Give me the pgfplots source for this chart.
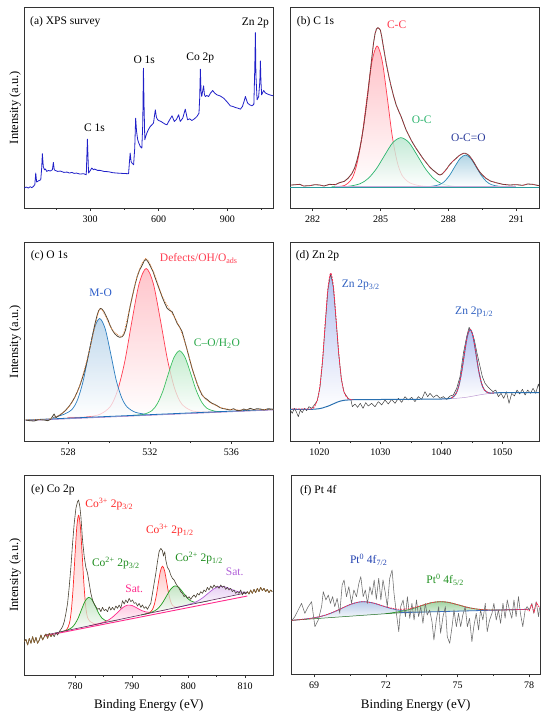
\documentclass[border=0pt]{standalone}
\usepackage{fontspec}
\setmainfont{Liberation Serif}
\usepackage{pgfplots}
\pgfplotsset{compat=1.18}
\definecolor{survey}{HTML}{2020C8}
\definecolor{rawbr}{HTML}{6B5A3A}
\definecolor{rawdk}{HTML}{4A4233}
\definecolor{envred}{HTML}{FF2A50}
\definecolor{ccred}{HTML}{FF3C50}
\definecolor{ocgreen}{HTML}{2DB46E}
\definecolor{ocoblue}{HTML}{2A8AB8}
\definecolor{ocolab}{HTML}{2A3A9A}
\definecolor{teal2}{HTML}{2A9C9C}
\definecolor{purp}{HTML}{A070C0}
\definecolor{moblue}{HTML}{2B7DC0}
\definecolor{molab}{HTML}{2B5CC8}
\definecolor{cogreen}{HTML}{3CC060}
\definecolor{colab}{HTML}{2AA84A}
\definecolor{envor}{HTML}{E8843C}
\definecolor{znblue}{HTML}{2A70B0}
\definecolor{znlab}{HTML}{2E5FC0}
\definecolor{lav}{HTML}{B4C0F0}
\definecolor{cored}{HTML}{FF2A2A}
\definecolor{cogr}{HTML}{1E9C1E}
\definecolor{colabgr}{HTML}{1E8C1E}
\definecolor{satm}{HTML}{FF2A8C}
\definecolor{satv}{HTML}{B060D8}
\definecolor{basedark}{HTML}{5A2A5A}
\definecolor{ptblue}{HTML}{3A6EC0}
\definecolor{ptlab}{HTML}{2040B0}
\definecolor{ptgreen}{HTML}{30A030}
\definecolor{ptlabg}{HTML}{209020}
\definecolor{grayraw}{HTML}{6A6A6A}
\pgfplotsset{
  xps/.style={
    scale only axis, width=249pt, height=201pt, anchor=north west,
    ymin=0, ytick=\empty, no marks, clip=true,
    axis line style={line width=0.7pt, black!80},
    xtick pos=left, tick align=outside,
    major tick length=3pt, minor tick length=1.8pt,
    tick style={black!80, line width=0.6pt},
    minor x tick num=1,
    xticklabel style={font=\fontsize{10}{12}\selectfont, yshift=-1pt},
    scaled x ticks=false,
    /pgf/number format/assume math mode=true,
    /pgf/number format/1000 sep={},
    every axis plot/.append style={line join=round},
  },
  ylab/.style={ylabel={Intensity (a.u.)}, ylabel style={font=\fontsize{12.5}{14}\selectfont, at={(axis description cs:-0.013,0.5)}, anchor=south, inner sep=0pt}},
  xlab/.style={xlabel={Binding Energy (eV)}, xlabel style={font=\fontsize{13}{15}\selectfont, at={(axis description cs:0.5,0)}, anchor=north, yshift=-24.5pt, inner sep=0pt}},
}
\tikzset{lab/.style={font=\fontsize{11.5}{13}\selectfont, inner sep=0pt}}
\begin{document}
\begin{tikzpicture}
\useasboundingbox (0,0) rectangle (550pt,-721pt);
% ---------------- (a) survey
\begin{axis}[xps, ylab, at={(24.3pt,-7pt)}, xmin=12, xmax=1101, ymax=604,
  xtick={300,600,900}, minor xtick={150,450,750,1050}, minor x tick num=0]
\addplot[color=survey, line width=0.8pt] coordinates {
(12,60) (20,63) (30,60) (38,64) (45,61) (52,65) (58,70) (62,105) (66,78) (75,82) (84,85) (88,120) (91,163) (95,125) (100,115) (105,117) (110,110) (118,113) (125,111) (135,115) (139,137) (143,115) (147,113) (158,110) (170,111) (185,107) (198,108) (210,105) (220,107) (230,104) (240,105) (255,102) (271,103) (283,100) (288,207) (293,105) (300,112) (307,120) (315,115) (320,117) (332,113) (344,113) (360,110) (380,109) (400,106) (417,105) (440,104) (468,103) (472,140) (475,165) (479,140) (483,135) (490,130) (495,180) (499,270) (503,230) (508,205) (513,195) (519,185) (526,180) (530,250) (533,420) (536,300) (539,205) (543,215) (548,225) (555,236) (563,245) (570,250) (577,255) (585,295) (590,272) (595,265) (603,262) (610,260) (621,255) (628,252) (636,250) (645,262) (652,270) (658,277) (668,260) (677,266) (687,280) (694,260) (705,270) (716,297) (726,265) (735,268) (745,263) (756,268) (767,275) (776,285) (779,330) (782,417) (785,350) (788,335) (796,367) (800,340) (804,335) (810,338) (818,335) (826,345) (836,353) (845,345) (855,340) (868,337) (884,330) (900,318) (913,307) (925,305) (935,302) (946,300) (957,297) (966,305) (973,320) (979,335) (985,322) (989,315) (998,310) (1008,307) (1016,312) (1020,420) (1022.7,527) (1025,400) (1030,325) (1037,335) (1042,380) (1044.6,442) (1047,380) (1050,340) (1055,348) (1059,353) (1066,346) (1074,343) (1085,340) (1101,337)};
\node[lab, anchor=west] at (axis cs:37,560) {(a) XPS survey};
\node[lab] at (axis cs:319,240) {C 1s};
\node[lab] at (axis cs:536.5,445) {O 1s};
\node[lab] at (axis cs:781.8,450) {Co 2p};
\node[lab] at (axis cs:1022.7,557) {Zn 2p};
\end{axis}
% ---------------- (b) C 1s
\pgfplotstableread{
x y
281.06 69
281.43 71
281.6 66
281.87 67
282.1 70
282.31 69
282.5 66
282.75 71
283.0 70
283.19 76
283.4 80
283.56 89
283.72 102
283.85 119
283.96 143
284.07 174
284.16 206
284.25 244
284.35 294
284.44 344
284.53 400
284.62 454
284.69 495
284.76 524
284.82 537
284.88 541
284.94 538
284.99 534
285.05 515
285.1 494
285.18 462
285.25 434
285.36 397
285.47 364
285.58 335
285.69 309
285.8 291
285.91 274
286.02 254
286.13 234
286.24 219
286.35 204
286.46 191
286.57 179
286.72 164
286.87 149
287.02 136
287.16 124
287.31 114
287.46 106
287.55 101
287.63 99
287.72 102
287.82 109
287.93 118
288.04 129
288.19 140
288.34 149
288.45 156
288.56 161
288.66 164
288.75 164
288.84 161
288.93 156
289.04 146
289.15 134
289.26 121
289.37 109
289.5 99
289.66 89
289.85 81
290.1 76
290.4 71
290.69 69
291.0 70
291.28 68
291.5 72
291.72 71
292.0 67
}\rawb
\begin{axis}[xps, at={(290pt,-7pt)}, xmin=281, xmax=292, ymax=603,
  xtick={282,285,288,291}]
\addplot[smooth, draw=ccred, line width=0.7pt, top color=ccred!40, bottom color=white, fill opacity=0.8] coordinates {
(282.98,64) (283.42,68) (283.75,90) (283.97,136) (284.19,219) (284.41,335) (284.63,442) (284.85,486) (285.07,442) (285.29,335) (285.51,219) (285.73,140) (285.95,98) (286.28,76) (286.72,67) (287.2,64)};
\addplot[smooth, draw=ocgreen, line width=0.7pt, top color=ocgreen!35, bottom color=white, fill opacity=0.8] coordinates {
(282.84,64) (283.56,65) (284.1,73) (284.46,89) (284.82,118) (285.18,158) (285.54,196) (285.9,211) (286.26,196) (286.62,158) (286.98,118) (287.34,89) (287.7,73) (288.24,65) (288.96,64)};
\addplot[smooth, draw=ocoblue, line width=0.7pt, top color=ocoblue!45, bottom color=white, fill opacity=0.8] coordinates {
(286.79,64) (287.25,65) (287.6,70) (287.83,80) (288.06,99) (288.29,125) (288.52,149) (288.75,159) (288.98,149) (289.21,125) (289.44,99) (289.67,80) (289.9,70) (290.25,65) (290.71,64)};
\addplot[purp!60, line width=0.4pt] coordinates {(283,66) (291,66)};
\addplot[teal2, line width=0.9pt] coordinates {(281,62) (292,62)};
\addplot[rawdk, line width=0.8pt] table {\rawb};
\addplot[envred, line width=0.6pt, densely dotted] table {\rawb};
\node[lab, anchor=west] at (axis cs:281.3,559) {(b) C 1s};
\node[lab, text=ccred] at (axis cs:285.71,549) {C-C};
\node[lab, text=ocgreen] at (axis cs:286.82,264) {O-C};
\node[lab, text=ocolab] at (axis cs:288.88,211) {O-C=O};
\end{axis}
% ---------------- (c) O 1s
\begin{axis}[xps, ylab, at={(24.3pt,-242pt)}, height=199pt, xmin=525.85, xmax=538.05, ymax=597,
  xtick={528,532,536}]
\addplot[smooth, draw=ccred, line width=0.7pt, top color=ccred!40, bottom color=white, fill opacity=0.75] coordinates {
(527.96,71) (528.85,72) (529.55,80) (530.07,104) (530.42,152) (530.77,237.4) (531.12,358.8) (531.47,470.7) (531.82,517.6) (532.17,472.5) (532.52,362.4) (532.87,242.9) (533.22,156.8) (533.57,110.6) (534.1,90) (534.8,87) (535.3,88)};
\addplot[smooth, draw=moblue, line width=0.7pt, top color=moblue!40, bottom color=white, fill opacity=0.75] coordinates {
(527.25,70) (527.79,80) (528.19,95) (528.46,124) (528.73,179) (529.0,260.1) (529.27,335.8) (529.54,367.5) (529.81,337.3) (530.08,263) (530.35,183.3) (530.62,130) (530.89,102) (531.3,86) (531.84,80)};
\addplot[smooth, draw=cogreen, line width=0.7pt, top color=cogreen!40, bottom color=white, fill opacity=0.75] coordinates {
(531.16,76.8) (531.7,80) (532.1,91) (532.37,112) (532.64,149.7) (532.91,202.1) (533.18,250.1) (533.45,270.8) (533.72,251.5) (533.99,204.9) (534.26,154) (534.53,117.7) (534.8,98.2) (535.21,89.2) (535.75,88.9)};
\addplot[purp, line width=0.5pt] coordinates {(525.92,61) (538.06,93)};
\addplot[teal2!70!blue, line width=0.8pt] coordinates {(525.92,63) (538.06,95)};
\addplot[rawdk, line width=0.8pt] coordinates {
(525.92,63) (526.1,61) (526.33,60) (526.55,64) (526.82,63) (527.0,61) (527.14,65) (527.31,81) (527.4,70) (527.47,73) (527.6,78) (527.71,83) (527.84,90) (527.96,98) (528.08,107) (528.2,118) (528.32,131) (528.45,148) (528.57,166) (528.69,188) (528.82,214) (528.94,243) (529.06,278) (529.18,313) (529.3,348) (529.42,378) (529.5,392) (529.59,398) (529.67,395) (529.75,388) (529.85,376) (529.95,363) (530.05,347) (530.16,333) (530.28,322) (530.4,315) (530.52,311) (530.65,313) (530.73,320) (530.81,333) (530.89,355) (530.97,383) (531.05,408) (531.14,433) (531.26,465) (531.38,493) (531.5,513) (531.63,528) (531.72,540) (531.82,545) (531.91,538) (532.0,528) (532.08,518) (532.16,508) (532.26,490) (532.36,473) (532.48,453) (532.6,433) (532.72,415) (532.85,398) (532.97,392) (533.09,388) (533.22,370) (533.34,353) (533.46,342) (533.58,328) (533.7,302) (533.83,273) (533.95,245) (534.07,218) (534.19,195) (534.31,173) (534.43,154) (534.56,138) (534.68,130) (534.8,125) (534.93,118) (535.05,113) (535.17,110) (535.29,106) (535.42,101) (535.54,98) (535.7,96) (535.94,93) (536.1,97) (536.25,92) (536.43,91) (536.6,96) (536.75,93) (536.92,98) (537.1,94) (537.25,97) (537.41,96) (537.6,93) (537.8,97) (538.06,95)};
\addplot[smooth, envor, line width=0.7pt, densely dotted] coordinates {
(525.92,64) (527.0,66) (527.5,76) (528.0,100) (528.5,155) (529.0,262) (529.3,340) (529.55,396) (529.8,378) (530.1,340) (530.45,318) (530.7,320) (531.0,395) (531.4,498) (531.8,548) (532.2,505) (532.6,436) (533.0,392) (533.4,350) (533.8,280) (534.2,192) (534.6,136) (535.0,114) (535.6,98) (536.5,93) (538.06,95)};
\node[lab, anchor=west] at (axis cs:526.16,555) {(c) O 1s};
\node[lab, text=molab] at (axis cs:529.59,445) {M-O};
\node[lab, text=ccred] at (axis cs:534.4,548) {Defects/OH/O\textsubscript{ads}};
\node[lab, text=colab] at (axis cs:535.29,293) {C–O/H\textsubscript{2}O};
\end{axis}
% ---------------- (d) Zn 2p
\begin{axis}[xps, at={(290pt,-242pt)}, height=199pt, xmin=1015.2, xmax=1056, ymax=597,
  xtick={1020,1030,1040,1050}]
\addplot[smooth, draw=none, top color=lav, bottom color=white] coordinates {
(1018.12,95) (1019.0,98.6) (1019.66,121) (1020.1,164.7) (1020.54,244.9) (1020.98,355.8) (1021.42,458.5) (1021.86,504) (1022.3,465.4) (1022.74,368.9) (1023.18,263.8) (1023.62,187.8) (1024.06,146.9) (1024.72,126.7) (1025.6,123.7)};
\addplot[smooth, draw=none, top color=lav, bottom color=white] coordinates {
(1040.7,126.3) (1041.64,128.7) (1042.35,140.4) (1042.82,162.9) (1043.29,203.9) (1043.76,260.2) (1044.23,312.7) (1044.7,335) (1045.17,315.6) (1045.64,265.9) (1046.11,212.1) (1046.58,173.5) (1047.05,153.2) (1047.76,144.3) (1048.7,144.1)};
\addplot[smooth, color=purp!70, line width=0.5pt] coordinates {
(1040,126) (1041,126.5) (1042,127.5) (1043,129) (1044,131) (1045,134) (1046,137.5) (1047,140.5) (1048,143) (1049,144.5) (1050,145)};
\addplot[color=black!75, line width=0.5pt] coordinates {
(1015.25,93) (1015.57,83) (1015.9,98) (1016.23,88) (1016.56,73) (1016.89,93) (1017.21,85) (1017.54,98) (1017.92,91) (1018.31,103) (1018.74,98) (1019.18,108) (1019.66,121) (1020.1,160) (1020.54,240) (1020.98,352) (1021.42,455) (1021.86,502) (1022.3,462) (1022.74,365) (1023.18,262) (1023.62,185) (1024.06,146) (1024.72,128) (1025.19,123) (1025.41,103) (1025.85,111) (1026.28,101) (1026.72,113) (1027.16,98) (1027.6,115) (1028.03,105) (1028.58,113) (1029.13,103) (1029.67,118) (1030.22,108) (1030.77,123) (1031.31,111) (1031.86,125) (1032.4,113) (1032.95,128) (1033.5,116) (1034.04,133) (1034.59,123) (1035.14,131) (1035.68,118) (1036.23,133) (1036.78,125) (1037.32,148) (1037.76,133) (1038.14,143) (1038.69,131) (1039.23,138) (1039.78,128) (1040.33,133) (1040.87,125) (1041.42,135) (1041.97,138) (1042.51,158) (1043.06,193) (1043.61,263) (1044.15,313) (1044.54,341) (1044.97,328) (1045.41,303) (1045.85,263) (1046.28,228) (1046.72,193) (1047.16,173) (1047.6,163) (1048.03,155) (1048.47,148) (1048.91,153) (1049.34,133) (1049.78,143) (1050.22,128) (1050.66,148) (1051.09,113) (1051.53,143) (1051.97,135) (1052.4,153) (1052.84,141) (1053.28,155) (1053.72,138) (1054.15,153) (1054.59,143) (1055.03,158) (1055.46,143) (1055.9,171) (1056.0,163)};
\addplot[smooth, color=znblue, line width=1pt] coordinates {
(1015.2,95) (1018.5,95) (1019.5,96) (1020,97) (1020.5,99) (1021,102) (1021.5,105) (1022,109) (1022.5,113) (1023,117) (1023.5,120) (1024,122) (1025,123.5) (1026,124) (1030,124.5) (1035,125) (1040,126) (1040.7,126.3) (1041.64,128.7) (1042.35,140.4) (1042.82,162.9) (1043.29,203.9) (1043.76,260.2) (1044.23,312.7) (1044.7,335) (1045.17,315.6) (1045.64,265.9) (1046.11,212.1) (1046.58,173.5) (1047.05,153.2) (1047.76,144.3) (1048.7,144.1) (1050,145) (1056,145)};
\addplot[smooth, color=envred, line width=0.8pt, dash pattern=on 2pt off 1pt] coordinates {
(1015.5,96) (1017,96) (1018.12,96) (1019.0,98.6) (1019.66,121) (1020.1,164.7) (1020.54,244.9) (1020.98,355.8) (1021.42,458.5) (1021.86,504) (1022.3,465.4) (1022.74,368.9) (1023.18,263.8) (1023.62,187.8) (1024.06,146.9) (1024.72,126.7) (1025.6,123.7)};
\addplot[smooth, color=envred, line width=0.8pt, dash pattern=on 2pt off 1pt] coordinates {
(1041.64,128.7) (1042.35,140.4) (1042.82,162.9) (1043.29,203.9) (1043.76,260.2) (1044.23,312.7) (1044.7,335) (1045.17,315.6) (1045.64,265.9) (1046.11,212.1) (1046.58,173.5) (1047.05,153.2) (1047.76,144.3) (1048.7,144.1)};
\node[lab, anchor=west] at (axis cs:1016.12,555) {(d) Zn 2p};
\node[lab, anchor=west, text=znlab] at (axis cs:1023.66,468) {Zn 2p\textsubscript{3/2}};
\node[lab, anchor=west, text=znlab] at (axis cs:1042.24,388) {Zn 2p\textsubscript{1/2}};
\end{axis}
% ---------------- (e) Co 2p
\begin{axis}[xps, ylab, xlab, at={(24.3pt,-475pt)}, height=200pt, xmin=771, xmax=815, ymax=600,
  xtick={780,790,800,810}]
\addplot[smooth, draw=cored, line width=0.7pt, top color=cored!35, bottom color=white, fill opacity=0.75] coordinates {
(777.87,131.1) (778.51,136.4) (778.99,156.2) (779.31,193.8) (779.63,262.1) (779.95,356.1) (780.27,443) (780.59,479.7) (780.91,445.2) (781.23,360.6) (781.55,269) (781.87,202.9) (782.19,172) (782.67,160) (783.31,154) (784.2,153.6)};
\addplot[smooth, draw=cogr, line width=0.7pt, top color=cogr!35, bottom color=white, fill opacity=0.75] coordinates {
(777.25,128.8) (778.45,133.9) (779.35,141.7) (779.95,153.1) (780.55,172.2) (781.15,197.9) (781.75,221.9) (782.35,233) (782.95,226.1) (783.55,206.5) (784.15,185.1) (784.75,170.2) (785.35,163.1) (786.25,161.7) (787.45,165.2)};
\addplot[smooth, draw=satm, line width=0.7pt, top color=satm!35, bottom color=white, fill opacity=0.75] coordinates {
(782.44,147.3) (784.04,153.4) (785.24,159.8) (786.04,166.7) (786.84,177.1) (787.64,190.3) (788.44,202.7) (789.24,209.6) (790.04,208.4) (790.84,201.7) (791.64,194.2) (792.44,189.5) (793.24,188.3) (794.44,190.5) (796.04,195.9)};
\addplot[smooth, draw=cored, line width=0.7pt, top color=cored!35, bottom color=white, fill opacity=0.75] coordinates {
(792.35,182.7) (793.07,186.5) (793.61,195.5) (793.97,211.1) (794.33,238.7) (794.69,276.5) (795.05,311.4) (795.41,326.6) (795.77,313.9) (796.13,281.6) (796.49,246.4) (796.85,221.4) (797.21,208.4) (797.75,203.2) (798.47,204.6)};
\addplot[smooth, draw=cogr, line width=0.7pt, top color=cogr!35, bottom color=white, fill opacity=0.75] coordinates {
(791.64,180.2) (793.04,185.8) (794.09,193) (794.79,202.6) (795.49,218.2) (796.19,238.8) (796.89,258) (797.59,267.4) (798.29,263) (798.99,248.8) (799.69,233.2) (800.39,222.6) (801.09,218) (802.14,218.3) (803.54,222.7)};
\addplot[smooth, draw=satv, line width=0.7pt, top color=satv!40, bottom color=white, fill opacity=0.75] coordinates {
(797.42,200.8) (799.3,207.8) (800.71,214.8) (801.65,222) (802.59,232.4) (803.53,245.7) (804.47,258.1) (805.41,265.3) (806.35,264.9) (807.29,259.2) (808.23,252.6) (809.17,248.9) (810.11,248.5) (810.41,248.7)};
\addplot[basedark, line width=0.6pt] coordinates {(774.5,119) (810.41,247.2)};
\addplot[satm, line width=0.9pt] coordinates {(774.5,117) (810.41,237)};
\addplot[rawdk, line width=0.6pt] coordinates {
(771.0,100) (771.29,107) (771.59,90) (771.88,110) (772.18,95) (772.47,115) (772.76,97) (773.06,113) (773.35,95) (773.65,105) (773.94,120) (774.24,105) (774.53,115) (774.82,123) (775.12,110) (775.41,125) (775.71,115) (776.0,123) (776.29,115) (776.59,127) (776.88,120) (777.18,130) (777.47,137) (777.76,145) (778.06,160) (778.35,185) (778.65,215) (778.94,265) (779.24,325) (779.53,395) (779.82,455) (780.12,500) (780.41,520) (780.59,525) (780.82,505) (781.0,475) (781.29,405) (781.59,355) (781.88,323) (782.18,305) (782.47,275) (782.76,245) (783.06,225) (783.35,213) (783.65,205) (783.94,197) (784.24,200) (784.53,190) (784.82,203) (785.12,193) (785.41,197) (785.71,190) (786.0,205) (786.29,195) (786.59,203) (786.88,195) (787.18,207) (787.47,200) (787.76,210) (788.06,200) (788.35,223) (788.65,213) (788.94,225) (789.24,217) (789.53,230) (789.82,220) (790.12,225) (790.41,215) (790.71,217) (791.0,207) (791.29,215) (791.59,203) (791.88,210) (792.18,200) (792.47,205) (792.76,197) (793.06,207) (793.35,215) (793.65,245) (793.94,275) (794.24,305) (794.53,340) (794.82,370) (795.12,380) (795.41,373) (795.59,357) (795.82,370) (796.0,345) (796.29,323) (796.59,315) (796.88,300) (797.18,290) (797.47,285) (797.76,275) (798.06,267) (798.35,260) (798.65,250) (798.94,245) (799.24,235) (799.53,240) (799.82,230) (800.12,235) (800.41,227) (800.71,235) (801.0,240) (801.29,233) (801.59,245) (801.88,240) (802.18,250) (802.47,245) (802.76,255) (803.06,250) (803.35,263) (803.65,255) (803.94,267) (804.24,260) (804.53,270) (804.82,263) (805.12,267) (805.41,260) (805.71,270) (806.0,263) (806.29,267) (806.59,257) (806.88,263) (807.18,255) (807.47,260) (807.76,250) (808.06,255) (808.35,245) (808.65,250) (808.94,245) (809.24,255) (809.53,240) (809.82,250) (810.12,243) (810.41,250) (810.71,243) (811.0,255) (811.29,245) (811.59,257) (811.88,247) (812.18,260) (812.47,250) (812.76,263) (813.06,253) (813.35,260) (813.65,250) (813.94,257) (814.24,247) (814.53,255) (814.82,250)};
\addplot[rawbr!80!orange, line width=0.6pt] coordinates {
(771.0,100) (771.29,107) (771.59,90) (771.88,110) (772.18,95) (772.47,115) (772.76,97) (773.06,113) (773.35,95) (773.65,105) (773.94,120) (774.24,105) (774.53,115) (774.82,123) (775.12,110) (775.41,125) (775.71,115) (776.0,123)};
\addplot[rawbr!80!orange, line width=0.6pt] coordinates {
(810.41,250) (810.71,243) (811.0,255) (811.29,245) (811.59,257) (811.88,247) (812.18,260) (812.47,250) (812.76,263) (813.06,253) (813.35,260) (813.65,250) (813.94,257) (814.24,247) (814.53,255) (814.82,250)};
\node[lab, anchor=west] at (axis cs:772.18,557) {(e) Co 2p};
\node[lab, anchor=west, text=cored] at (axis cs:781.76,513) {Co\textsuperscript{3+} 2p\textsubscript{3/2}};
\node[lab, anchor=west, text=colabgr] at (axis cs:782.94,335) {Co\textsuperscript{2+} 2p\textsubscript{3/2}};
\node[lab, text=satm] at (axis cs:790.41,260) {Sat.};
\node[lab, anchor=west, text=cored] at (axis cs:792.47,435) {Co\textsuperscript{3+} 2p\textsubscript{1/2}};
\node[lab, anchor=west, text=colabgr] at (axis cs:797.65,350) {Co\textsuperscript{2+} 2p\textsubscript{1/2}};
\node[lab, text=satv] at (axis cs:808.18,310) {Sat.};
\end{axis}
% ---------------- (f) Pt 4f
\begin{axis}[xps, xlab, at={(291.5pt,-475pt)}, width=248.5pt, height=199.3pt, xmin=68.05, xmax=78.45, ymax=598,
  xtick={69,72,75,78}]
\addplot[smooth, draw=ptblue, line width=0.7pt, top color=ptblue!45, bottom color=white, fill opacity=0.8] coordinates {
(68.06,162) (68.38,164) (68.98,169.3) (69.38,175.7) (69.78,185.8) (70.18,199) (70.58,211.5) (70.98,217.8) (71.38,215.5) (71.78,207.1) (72.18,198) (72.58,191.9) (72.98,188.3) (73.58,187.2)};
\addplot[smooth, draw=ptgreen, line width=0.7pt, top color=ptgreen!55, bottom color=white!80!ptgreen, fill opacity=0.8] coordinates {
(72.0,181.9) (72.35,185.5) (72.73,190.3) (73.11,197) (73.49,206) (73.87,214.3) (74.25,218.1) (74.63,215.7) (75.01,208.8) (75.39,201.3) (75.77,196.1) (76.15,193.6) (76.72,193.1) (77.48,194.2)};
\addplot[color=ptgreen!70!black, line width=0.5pt] coordinates {(68.06,162) (72.6,185)};
\addplot[color=ptblue, line width=0.8pt] coordinates {(72.6,185) (78.0,195.2)};
\addplot[color=grayraw, line width=0.55pt] coordinates {
(68.06,161) (68.19,173) (68.33,193) (68.47,213) (68.61,183) (68.75,203) (68.89,218) (69.03,143) (69.17,163) (69.31,203) (69.38,248) (69.49,223) (69.59,238) (69.68,213) (69.77,233) (69.86,203) (69.96,228) (70.07,183) (70.17,268) (70.25,283) (70.35,233) (70.45,263) (70.56,213) (70.66,253) (70.77,233) (70.87,273) (70.95,293) (71.05,233) (71.14,253) (71.23,213) (71.33,263) (71.42,238) (71.51,283) (71.60,225) (71.70,288) (71.79,223) (71.88,283) (71.98,243) (72.06,203) (72.16,288) (72.26,313) (72.34,243) (72.44,183) (72.54,128) (72.62,203) (72.72,223) (72.82,173) (72.90,233) (73.0,168) (73.09,213) (73.18,163) (73.28,223) (73.37,173) (73.46,203) (73.55,153) (73.65,213) (73.73,178) (73.83,193) (73.93,158) (74.01,103) (74.11,163) (74.21,203) (74.29,123) (74.39,173) (74.49,203) (74.57,113) (74.67,93) (74.77,143) (74.85,193) (74.95,143) (75.04,183) (75.13,143) (75.22,178) (75.32,203) (75.41,143) (75.50,168) (75.60,98) (75.68,143) (75.78,183) (75.88,133) (75.96,193) (76.06,163) (76.16,213) (76.24,128) (76.34,163) (76.44,183) (76.52,213) (76.62,163) (76.71,193) (76.80,153) (76.90,213) (76.99,168) (77.08,223) (77.17,193) (77.27,168) (77.36,223) (77.45,173) (77.55,233) (77.63,183) (77.73,143) (77.83,193) (77.91,203) (78.01,193) (78.11,213) (78.19,183) (78.29,218) (78.39,173) (78.43,200)};
\addplot[smooth, color=envred, line width=0.8pt, dash pattern=on 1.5pt off 1pt] coordinates {
(68.06,162) (68.5,164.8) (69.0,169.5) (69.5,178.2) (70.0,192.8) (70.5,209.2) (70.98,217.8) (71.5,213.4) (72.0,202.4) (72.5,195.5) (73.0,197.2) (73.5,206.7) (74.0,216.2) (74.5,217.2) (75.0,209) (75.5,199.5) (76.0,194.3) (76.5,193) (77.0,193.3) (77.5,194.2) (77.9,195)};
\addplot[color=envred, line width=0.8pt, dash pattern=on 1.5pt off 1pt] coordinates {
(77.9,195) (78.0,190) (78.1,210) (78.2,185) (78.3,215) (78.43,200)};
\node[lab, anchor=west] at (axis cs:68.4,551) {(f) Pt 4f};
\node[lab, anchor=west, text=ptlab] at (axis cs:70.49,343) {Pt\textsuperscript{0} 4f\textsubscript{7/2}};
\node[lab, anchor=west, text=ptlabg] at (axis cs:73.69,283) {Pt\textsuperscript{0} 4f\textsubscript{5/2}};
\end{axis}
\end{tikzpicture}
\end{document}
